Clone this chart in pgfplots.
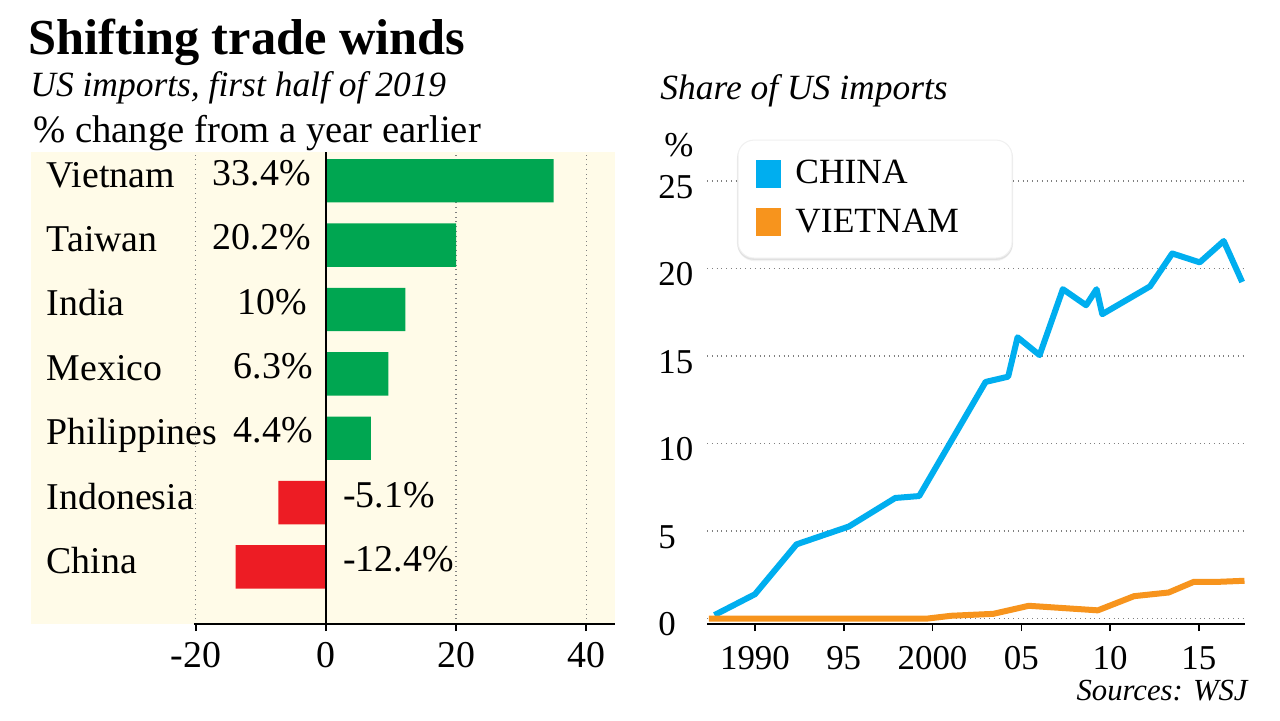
\documentclass[border=0pt]{standalone}
\usepackage{fontspec}
\setmainfont{Liberation Serif}
\usepackage{pgfplots}
\pgfplotsset{compat=1.18}
\definecolor{cgreen}{RGB}{0,166,81}
\definecolor{cred}{RGB}{237,28,36}
\definecolor{cblue}{RGB}{0,174,239}
\definecolor{corange}{RGB}{247,148,29}
\definecolor{ccream}{RGB}{255,251,232}
\begin{document}
\begin{tikzpicture}[x=0.5bp,y=0.5bp]
\useasboundingbox[fill=white] (0,0) rectangle (1280,720);
\coordinate (LA) at (30.7,96);
\coordinate (RA) at (707,96);
% titles
\node[anchor=base west, inner sep=0, font=\fontsize{25.3}{26}\selectfont\bfseries] at (28,665) {Shifting trade winds};
\node[anchor=base west, inner sep=0, font=\fontsize{17.8}{20}\selectfont\itshape] at (30,623) {US imports, first half of 2019};
\node[anchor=base west, inner sep=0, font=\fontsize{19.4}{20}\selectfont] at (33,577) {\% change from a year earlier};
\node[anchor=base west, inner sep=0, font=\fontsize{17.8}{20}\selectfont\itshape] at (660,620) {Share of US imports};
\node[anchor=base east, inner sep=0, font=\fontsize{15.4}{16}\selectfont\itshape] at (1248,20) {Sources: WSJ};
\node[anchor=center, inner sep=0, font=\fontsize{17.5}{18}\selectfont] at (679,575) {\%};

% ---------- left: bar chart ----------
\begin{axis}[
  at={(LA)}, anchor=south west,
  scale only axis, width=292bp, height=236bp,
  xmin=-45.4, xmax=44.4, ymin=-0.886, ymax=6.447,
  axis background/.style={fill=ccream},
  axis x line*=bottom, axis y line*=left,
  axis line style={draw=none},
  ytick=\empty,
  xtick={-20,0,20,40}, xticklabels={-20,0,20,40},
  xtick align=outside, major tick length=3.5bp,
  xtick style={black, line width=0.8bp},
  xmajorgrids, grid style={dotted, gray, line width=0.6bp},
  xticklabel style={font=\fontsize{19}{20}\selectfont, yshift=-2bp},
  clip=false,
]
\addplot[xbar, bar width=0.675, fill=cgreen, draw=none] coordinates {(35.0,6) (20.0,5) (12.2,4) (9.6,3) (6.9,2)};
\addplot[xbar, bar width=0.675, fill=cred, draw=none] coordinates {(-7.3,1) (-13.9,0)};
\draw[line width=1bp] (axis cs:0,-0.886) -- (axis cs:0,6.447);
\draw[line width=1bp] (axis cs:-20.3,-0.886) -- (axis cs:44.4,-0.886);
\begin{scope}[every node/.style={font=\fontsize{19}{20}\selectfont, inner sep=0}]
\node[anchor=mid west] at (axis cs:-43.0,5.97) {Vietnam};
\node[anchor=mid west] at (axis cs:-43.0,4.97) {Taiwan};
\node[anchor=mid west] at (axis cs:-43.0,3.97) {India};
\node[anchor=mid west] at (axis cs:-43.0,2.97) {Mexico};
\node[anchor=mid west] at (axis cs:-43.0,1.97) {Philippines};
\node[anchor=mid west] at (axis cs:-43.0,0.97) {Indonesia};
\node[anchor=mid west] at (axis cs:-43.0,-0.03) {China};
\node[anchor=mid east] at (axis cs:-2.3,6) {33.4\%};
\node[anchor=mid east] at (axis cs:-2.3,5) {20.2\%};
\node[anchor=mid east] at (axis cs:-2.9,4) {10\%};
\node[anchor=mid east] at (axis cs:-2.0,3) {6.3\%};
\node[anchor=mid east] at (axis cs:-2.0,2) {4.4\%};
\node[anchor=mid west] at (axis cs:2.6,1) {-5.1\%};
\node[anchor=mid west] at (axis cs:2.6,0) {-12.4\%};
\end{scope}
\end{axis}

% ---------- right: line chart ----------
\begin{axis}[
  at={(RA)}, anchor=south west,
  scale only axis, width=269bp, height=226.75bp,
  xmin=1987.3, xmax=2017.6, ymin=-0.31, ymax=25.6,
  axis x line*=bottom, axis y line*=left,
  y axis line style={draw=none},
  x axis line style={line width=1bp},
  xtick={1990,1995,2000,2005,2010,2015},
  xticklabels={1990,95,2000,05,10,15},
  xtick align=outside, major tick length=3.5bp,
  xtick style={black, line width=0.8bp},
  ytick={0,5,10,15,20,25}, yticklabels={0,5,10,15,20,25},
  ytick style={draw=none},
  ymajorgrids, grid style={dotted, gray, line width=0.6bp},
  xticklabel style={font=\fontsize{17.5}{18}\selectfont, yshift=-4bp},
  yticklabel style={font=\fontsize{17.5}{18}\selectfont, anchor=west, inner xsep=0pt, xshift=-24.5bp, yshift=-3bp},
  legend style={at={(0.0576,1.067)}, anchor=north west, fill=none, draw=none,
    font=\fontsize{17.8}{20}\selectfont, inner xsep=9bp, inner ysep=8bp, row sep=7bp},
  legend cell align=left,
  clip=false,
]
% legend box with soft shadow
\fill[black, opacity=0.05, rounded corners=9bp] (rel axis cs:0.0556,0.800) rectangle (rel axis cs:0.569,1.065);
\fill[black, opacity=0.07, rounded corners=8bp] (rel axis cs:0.0566,0.803) rectangle (rel axis cs:0.568,1.066);
\fill[white, rounded corners=8bp, draw=gray!12, line width=0.5bp] (rel axis cs:0.0576,0.807) rectangle (rel axis cs:0.567,1.067);
\addplot[color=cblue, line width=3bp, line join=round,
  legend image code/.code={\fill[cblue, draw=none] (0bp,-7bp) rectangle (12.5bp,7bp); \path[draw=none, fill=none] (0bp,0bp) -- (17.5bp,0bp);}]
  coordinates {(1987.72,0.2) (1990.0,1.39) (1992.34,4.24) (1995.29,5.26) (1997.90,6.89) (1999.25,7.0) (2002.99,13.52) (2004.26,13.82) (2004.79,16.07) (2006.03,15.05) (2007.34,18.82) (2008.65,17.9) (2009.24,18.82) (2009.56,17.39) (2012.25,18.98) (2013.50,20.86) (2015.05,20.35) (2016.40,21.57) (2017.44,19.23)};
\addlegendentry{CHINA}
\addplot[color=corange, line width=3bp, line join=round,
  legend image code/.code={\fill[corange, draw=none] (0bp,-7bp) rectangle (12.5bp,7bp); \path[draw=none, fill=none] (0bp,0bp) -- (17.5bp,0bp);}]
  coordinates {(1987.40,0) (1999.71,0) (2001.05,0.16) (2003.42,0.27) (2005.42,0.73) (2009.31,0.47) (2011.35,1.28) (2013.30,1.49) (2014.72,2.10) (2016.14,2.10) (2017.57,2.16)};
\addlegendentry{VIETNAM}
\end{axis}
\end{tikzpicture}
\end{document}
